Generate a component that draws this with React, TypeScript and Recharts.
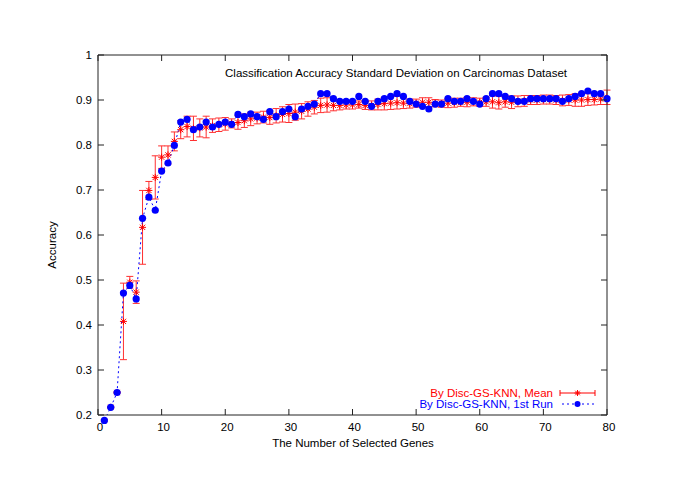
import React from 'react';
import { ComposedChart, Line, XAxis, YAxis, ErrorBar } from 'recharts';

const genes = [
  1, 2, 3, 4, 5, 6, 7, 8, 9, 10, 11, 12, 13, 14, 15, 16, 17, 18, 19, 20,
  21, 22, 23, 24, 25, 26, 27, 28, 29, 30, 31, 32, 33, 34, 35, 36, 37, 38, 39, 40,
  41, 42, 43, 44, 45, 46, 47, 48, 49, 50, 51, 52, 53, 54, 55, 56, 57, 58, 59, 60,
  61, 62, 63, 64, 65, 66, 67, 68, 69, 70, 71, 72, 73, 74, 75, 76, 77, 78, 79, 80,
];

const firstRun = [
  0.188, 0.217, 0.25, 0.471, 0.488, 0.458, 0.637, 0.684, 0.655, 0.742,
  0.76, 0.799, 0.851, 0.857, 0.834, 0.84, 0.851, 0.84, 0.846, 0.851,
  0.846, 0.868, 0.863, 0.869, 0.863, 0.857, 0.874, 0.863, 0.874, 0.88,
  0.863, 0.88, 0.886, 0.891, 0.914, 0.914, 0.903, 0.897, 0.897, 0.897,
  0.908, 0.897, 0.886, 0.897, 0.903, 0.908, 0.914, 0.908, 0.897, 0.891,
  0.886, 0.88, 0.891, 0.891, 0.903, 0.897, 0.897, 0.903, 0.897, 0.891,
  0.903, 0.914, 0.914, 0.908, 0.903, 0.897, 0.897, 0.903, 0.903, 0.903,
  0.903, 0.903, 0.897, 0.903, 0.908, 0.914, 0.92, 0.914, 0.914, 0.903,
];

const meanAcc = [
  0.188, 0.217, 0.25, 0.408, 0.495, 0.473, 0.617, 0.699, 0.728, 0.773,
  0.778, 0.808, 0.834, 0.841, 0.837, 0.838, 0.84, 0.843, 0.845, 0.847,
  0.848, 0.85, 0.854, 0.858, 0.86, 0.862, 0.861, 0.865, 0.868, 0.87,
  0.873, 0.875, 0.88, 0.884, 0.888, 0.889, 0.888, 0.888, 0.889, 0.889,
  0.89, 0.888, 0.888, 0.89, 0.892, 0.893, 0.894, 0.893, 0.892, 0.893,
  0.895, 0.895, 0.893, 0.892, 0.893, 0.894, 0.895, 0.895, 0.896, 0.895,
  0.896, 0.896, 0.894, 0.896, 0.895, 0.897, 0.898, 0.9, 0.9, 0.901,
  0.901, 0.9, 0.899, 0.9, 0.9, 0.9, 0.901, 0.901, 0.902, 0.906,
];

const stdDev = [
  0.002, 0.002, 0.002, 0.085, 0.013, 0.025, 0.082, 0.02, 0.048, 0.025,
  0.02, 0.021, 0.02, 0.023, 0.027, 0.02, 0.024, 0.015, 0.015, 0.014,
  0.01, 0.015, 0.015, 0.015, 0.013, 0.013, 0.015, 0.016, 0.017, 0.02,
  0.018, 0.017, 0.016, 0.015, 0.016, 0.016, 0.012, 0.01, 0.009, 0.009,
  0.008, 0.009, 0.01, 0.012, 0.014, 0.014, 0.014, 0.012, 0.01, 0.009,
  0.01, 0.01, 0.008, 0.008, 0.01, 0.01, 0.009, 0.01, 0.009, 0.009,
  0.01, 0.014, 0.014, 0.012, 0.014, 0.012, 0.012, 0.01, 0.01, 0.01,
  0.01, 0.01, 0.012, 0.012, 0.014, 0.014, 0.013, 0.012, 0.012, 0.016,
];

const xTicks = [0, 10, 20, 30, 40, 50, 60, 70, 80];
const yTicks = [0.2, 0.3, 0.4, 0.5, 0.6, 0.7, 0.8, 0.9, 1];

const titleText = 'Classification Accuracy Standard Deviation on Carcinomas Dataset';
const xLabel = 'The Number of Selected Genes';
const yLabel = 'Accuracy';
const meanName = 'By Disc-GS-KNN, Mean';
const runName = 'By Disc-GS-KNN, 1st Run';

const data = genes.map((g, i) => ({ g, run: firstRun[i], mean: meanAcc[i], err: stdDev[i] }));

const RED = '#ff0000';
const ERR_RED = '#ff3030';
const BLUE = '#0000ff';
const AXIS = '#222';
const FONT = '"Liberation Sans", Arial, Helvetica, sans-serif';
const FS = 11.5;
const TICK_LEN = 6;

const StarShape = ({ cx, cy, s = 3.5 }: { cx: number; cy: number; s?: number }) => (
  <g stroke={RED} strokeWidth={1} fill="none">
    <line x1={cx - s} y1={cy} x2={cx + s} y2={cy} />
    <line x1={cx} y1={cy - s} x2={cx} y2={cy + s} />
    <line x1={cx - s * 0.75} y1={cy - s * 0.75} x2={cx + s * 0.75} y2={cy + s * 0.75} />
    <line x1={cx - s * 0.75} y1={cy + s * 0.75} x2={cx + s * 0.75} y2={cy - s * 0.75} />
  </g>
);

const renderStar = (p: any) => {
  if (p == null || p.cx == null || p.cy == null) return <g key={`s-${p?.index}`} />;
  return (
    <g key={`s-${p.index}`}>
      <StarShape cx={p.cx} cy={p.cy} />
    </g>
  );
};

const BottomTick = (p: any) => (
  <g>
    <line x1={p.x} y1={p.y} x2={p.x} y2={p.y - TICK_LEN} stroke={AXIS} strokeWidth={1} />
    <text x={p.x + 2} y={p.y + 16} textAnchor="middle" fontFamily={FONT} fontSize={FS} fill="#000">
      {p.payload.value}
    </text>
  </g>
);

const TopTick = (p: any) => (
  <line x1={p.x} y1={p.y} x2={p.x} y2={p.y + TICK_LEN} stroke={AXIS} strokeWidth={1} />
);

const LeftTick = (p: any) => (
  <g>
    <line x1={p.x} y1={p.y} x2={p.x + TICK_LEN} y2={p.y} stroke={AXIS} strokeWidth={1} />
    <text x={p.x - 6} y={p.y + 4} textAnchor="end" fontFamily={FONT} fontSize={FS} fill="#000">
      {p.payload.value}
    </text>
  </g>
);

const RightTick = (p: any) => (
  <line x1={p.x} y1={p.y} x2={p.x - TICK_LEN} y2={p.y} stroke={AXIS} strokeWidth={1} />
);

export default function App() {
  return (
    <ComposedChart
      width={677}
      height={475}
      data={data}
      margin={{ top: 46, right: 77, bottom: 38, left: 0 }}
    >
      <XAxis
        xAxisId="b"
        type="number"
        dataKey="g"
        orientation="bottom"
        domain={[0, 80]}
        ticks={xTicks}
        height={30}
        tickSize={0}
        tickMargin={0}
        tickLine={false}
        tick={<BottomTick />}
        stroke={AXIS}
        allowDataOverflow
      />
      <XAxis
        xAxisId="t"
        type="number"
        dataKey="g"
        orientation="top"
        domain={[0, 80]}
        ticks={xTicks}
        height={1}
        tickSize={0}
        tickMargin={0}
        tickLine={false}
        tick={<TopTick />}
        stroke={AXIS}
        allowDataOverflow
      />
      <YAxis
        yAxisId="l"
        type="number"
        orientation="left"
        domain={[0.2, 1]}
        ticks={yTicks}
        width={90}
        tickSize={0}
        tickMargin={0}
        tickLine={false}
        tick={<LeftTick />}
        stroke={AXIS}
        allowDataOverflow
      />
      <YAxis
        yAxisId="r"
        type="number"
        orientation="right"
        domain={[0.2, 1]}
        ticks={yTicks}
        width={1}
        tickSize={0}
        tickMargin={0}
        tickLine={false}
        tick={<RightTick />}
        stroke={AXIS}
        allowDataOverflow
      />
      <Line
        xAxisId="b"
        yAxisId="l"
        dataKey="mean"
        stroke="none"
        strokeWidth={0}
        dot={renderStar}
        activeDot={false}
        isAnimationActive={false}
        legendType="none"
      >
        <ErrorBar dataKey="err" direction="y" width={3.5} stroke={ERR_RED} strokeWidth={1} isAnimationActive={false} />
      </Line>
      <Line
        xAxisId="b"
        yAxisId="l"
        dataKey="run"
        stroke={BLUE}
        strokeWidth={1}
        strokeDasharray="2 3"
        dot={{ r: 3.6, fill: BLUE, stroke: 'none', strokeWidth: 14, clipDot: false } as any}
        activeDot={false}
        isAnimationActive={false}
        legendType="none"
      />
      <text x={388} y={69} textAnchor="middle" fontFamily={FONT} fontSize={FS} fill="#000">
        {titleText}
      </text>
      <text x={345} y={439} textAnchor="middle" fontFamily={FONT} fontSize={FS} fill="#000">
        {xLabel}
      </text>
      <text
        x={48}
        y={237}
        textAnchor="middle"
        fontFamily={FONT}
        fontSize={FS}
        fill="#000"
        transform="rotate(-90, 48, 237)"
      >
        {yLabel}
      </text>
      <g>
        <text x={545} y={389} textAnchor="end" fontFamily={FONT} fontSize={FS} fill={RED}>
          {meanName}
        </text>
        <line x1={552} y1={385} x2={587} y2={385} stroke={RED} strokeWidth={1} />
        <line x1={552} y1={382} x2={552} y2={388} stroke={RED} strokeWidth={1} />
        <line x1={587} y1={382} x2={587} y2={388} stroke={RED} strokeWidth={1} />
        <StarShape cx={569.5} cy={385} s={3} />
        <text x={545} y={400} textAnchor="end" fontFamily={FONT} fontSize={FS} fill={BLUE}>
          {runName}
        </text>
        <line x1={554} y1={396} x2={586} y2={396} stroke={BLUE} strokeWidth={1} strokeDasharray="2 3" />
        <circle cx={569.5} cy={396} r={3} fill={BLUE} />
      </g>
    </ComposedChart>
  );
}
